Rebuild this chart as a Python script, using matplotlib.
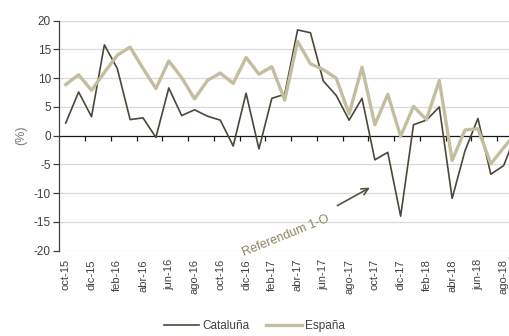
import matplotlib
matplotlib.use("Agg")
import matplotlib.pyplot as plt
import numpy as np

# -----------------------------------
# DATA
# -----------------------------------

months = [
    "oct-15", "nov-15", "dic-15", "ene-16", "feb-16", "mar-16", "abr-16",
    "may-16", "jun-16", "jul-16", "ago-16", "sep-16", "oct-16", "nov-16",
    "dic-16", "ene-17", "feb-17", "mar-17", "abr-17", "may-17", "jun-17",
    "jul-17", "ago-17", "sep-17", "oct-17", "nov-17", "dic-17", "ene-18",
    "feb-18", "mar-18", "abr-18", "may-18", "jun-18", "jul-18", "ago-18",
    "sep-18"
]

cataluna = [
    2.2, 7.6, 3.3, 15.8, 11.7, 2.8, 3.1, -0.3, 8.3, 3.5, 4.5, 3.4,
    2.7, -1.8, 7.4, -2.3, 6.5, 7.2, 18.4, 17.9, 9.5, 7.0, 2.7, 6.5,
    -4.2, -2.9, -14.0, 1.9, 2.7, 5.0, -10.9, -2.6, 3.0, -6.7, -5.2, 0.5
]

espana = [
    8.9, 10.6, 7.9, 11.0, 14.0, 15.4, 11.7, 8.2, 13.0, 10.1, 6.4, 9.6,
    10.9, 9.1, 13.6, 10.7, 12.0, 6.2, 16.4, 12.5, 11.5, 10.0, 3.8, 11.9,
    1.9, 7.2, -0.1, 5.1, 2.8, 9.6, -4.3, 1.0, 1.2, -4.9, -2.1, 0.6
]

y_ticks = [20, 15, 10, 5, 0, -5, -10, -15, -20]

# -----------------------------------
# STYLE
# -----------------------------------

plt.rcParams["font.family"] = ["Liberation Sans", "DejaVu Sans"]
plt.rcParams["axes.unicode_minus"] = False

dark = "#4a4838"
tan = "#c4bea0"
text_col = "#404040"

fig = plt.figure(figsize=(5.09, 3.36), dpi=100)
ax = fig.add_axes([0.1165, 0.2539, 0.911, 0.6845])

x = np.arange(len(months))

ax.plot(x, cataluna, color=dark, linewidth=1.2, label="Cataluña", zorder=3)
ax.plot(x, espana, color=tan, linewidth=2.4, label="España", zorder=3)

ax.set_xlim(-0.5, len(months) - 0.5)
ax.set_ylim(-20, 20)

# grid lines
for v in y_ticks:
    if v != 0:
        ax.axhline(v, color="#d9d9d9", linewidth=0.9, zorder=1)
ax.axhline(0, color="#1a1a1a", linewidth=0.9, zorder=2)

# small tick marks on the zero line between every two months
tick_pos = np.arange(1.5, len(months) - 0.5, 2)
ax.vlines(tick_pos, -0.9, 0, color="#1a1a1a", linewidth=0.9, zorder=2)

for side in ["top", "right", "bottom"]:
    ax.spines[side].set_visible(False)
ax.spines["left"].set_color("#404040")
ax.spines["left"].set_linewidth(0.9)

ax.set_yticks(y_ticks)
ax.set_yticklabels([str(v) for v in y_ticks])
ax.tick_params(axis="y", direction="out", length=4, width=0.9,
               color="#404040", labelsize=8.5, labelcolor=text_col, pad=2)

ax.set_xticks(x[:35:2])
ax.set_xticklabels(months[:35:2], rotation=90)
ax.tick_params(axis="x", length=0, labelsize=8, labelcolor=text_col, pad=6)

ax.set_ylabel("(%)", fontsize=9, color="#7a7a7a", labelpad=5)

# -----------------------------------
# ANNOTATION
# -----------------------------------

ax.annotate(
    "",
    xy=(23.8, -8.8),
    xytext=(20.9, -12.4),
    arrowprops=dict(arrowstyle="->", color="#55523f", linewidth=1.2,
                    mutation_scale=12)
)

ax.text(
    17.1, -17.4,
    "Referendum 1-O",
    rotation=22,
    ha="center",
    va="center",
    rotation_mode="anchor",
    fontsize=9,
    color="#8c8660",
    clip_on=False
)

# -----------------------------------
# LEGEND
# -----------------------------------

fig.legend(
    loc="center",
    bbox_to_anchor=(0.5, 0.03),
    ncol=2,
    frameon=False,
    fontsize=8.5,
    handlelength=3.0,
    handletextpad=0.3,
    columnspacing=1.4,
    labelcolor=text_col
)

fig.savefig("out.png", dpi=100)
